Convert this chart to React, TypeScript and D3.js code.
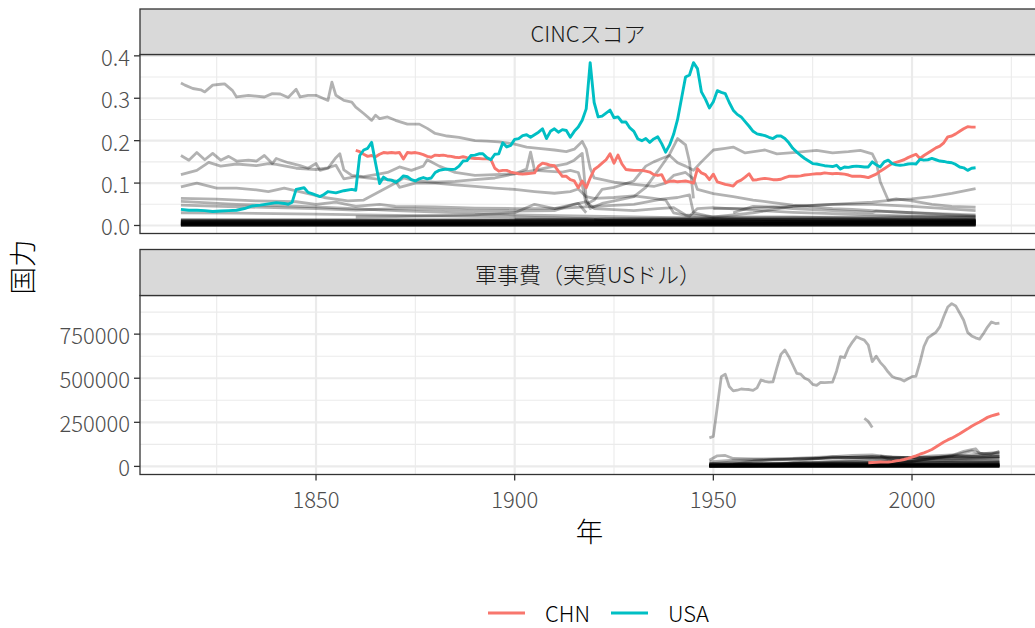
import React, { useEffect, useRef } from 'react';
import * as d3 from 'd3';

type Pt = [number, number];

// ---- CINC score (top facet) ----
const cincCHN: Pt[] = [
  [1860,0.177],[1861,0.174],[1862,0.168],[1863,0.163],[1864,0.165],[1865,0.162],[1866,0.168],[1867,0.172],[1868,0.171],[1869,0.172],
  [1870,0.171],[1871,0.172],[1872,0.157],[1873,0.172],[1874,0.171],[1875,0.172],[1876,0.170],[1877,0.167],[1878,0.163],[1879,0.161],
  [1880,0.166],[1881,0.165],[1882,0.166],[1883,0.164],[1884,0.163],[1885,0.161],[1886,0.160],[1887,0.162],[1888,0.160],[1889,0.159],
  [1890,0.158],[1891,0.158],[1892,0.157],[1893,0.157],[1894,0.156],[1895,0.135],[1896,0.128],[1897,0.130],[1898,0.130],[1899,0.126],
  [1900,0.124],[1901,0.122],[1902,0.121],[1903,0.122],[1904,0.123],[1905,0.124],[1906,0.140],[1907,0.147],[1908,0.145],[1909,0.142],
  [1910,0.141],[1911,0.128],[1912,0.116],[1913,0.116],[1914,0.108],[1915,0.105],[1916,0.089],[1917,0.105],[1918,0.089],[1919,0.112],
  [1920,0.132],[1921,0.139],[1922,0.147],[1923,0.155],[1924,0.169],[1925,0.147],[1926,0.166],[1927,0.145],[1928,0.132],[1929,0.131],
  [1930,0.130],[1931,0.130],[1932,0.130],[1933,0.128],[1934,0.126],[1935,0.120],[1936,0.118],[1937,0.120],[1938,0.101],[1939,0.104],
  [1940,0.105],[1941,0.103],[1942,0.104],[1943,0.105],[1944,0.103],[1945,0.100],[1946,0.134],[1947,0.124],[1948,0.120],[1949,0.108],
  [1950,0.121],[1951,0.103],[1952,0.100],[1953,0.097],[1954,0.095],[1955,0.093],[1956,0.103],[1957,0.107],[1958,0.114],[1959,0.122],
  [1960,0.107],[1961,0.108],[1962,0.110],[1963,0.111],[1964,0.110],[1965,0.108],[1966,0.108],[1967,0.109],[1968,0.113],[1969,0.116],
  [1970,0.116],[1971,0.116],[1972,0.117],[1973,0.119],[1974,0.120],[1975,0.121],[1976,0.122],[1977,0.122],[1978,0.124],[1979,0.123],
  [1980,0.122],[1981,0.123],[1982,0.122],[1983,0.121],[1984,0.119],[1985,0.116],[1986,0.116],[1987,0.116],[1988,0.115],[1989,0.113],
  [1990,0.117],[1991,0.121],[1992,0.128],[1993,0.134],[1994,0.140],[1995,0.146],[1996,0.149],[1997,0.152],[1998,0.155],[1999,0.160],
  [2000,0.164],[2001,0.168],[2002,0.158],[2003,0.165],[2004,0.171],[2005,0.177],[2006,0.183],[2007,0.187],[2008,0.195],[2009,0.209],
  [2010,0.211],[2011,0.216],[2012,0.222],[2013,0.228],[2014,0.233],[2015,0.232],[2016,0.232]
];

const cincUSA: Pt[] = [
  [1816,0.038],[1818,0.036],[1820,0.036],[1822,0.035],[1824,0.033],[1826,0.034],[1828,0.035],[1830,0.036],[1832,0.040],[1834,0.046],
  [1836,0.048],[1838,0.051],[1840,0.054],[1842,0.052],[1843,0.050],[1844,0.055],[1845,0.085],[1847,0.089],[1848,0.078],[1849,0.075],
  [1851,0.068],[1852,0.073],[1853,0.080],[1855,0.077],[1857,0.082],[1859,0.085],[1860,0.083],[1861,0.165],[1862,0.178],[1863,0.182],
  [1864,0.196],[1865,0.146],[1866,0.099],[1867,0.114],[1868,0.108],[1869,0.107],[1870,0.102],[1871,0.108],[1872,0.117],[1873,0.115],
  [1874,0.108],[1875,0.105],[1876,0.110],[1877,0.113],[1878,0.110],[1879,0.112],[1880,0.125],[1881,0.130],[1882,0.132],[1883,0.133],
  [1884,0.132],[1885,0.133],[1886,0.140],[1887,0.152],[1888,0.153],[1889,0.165],[1890,0.166],[1891,0.169],[1892,0.169],[1893,0.160],
  [1894,0.155],[1895,0.168],[1896,0.169],[1897,0.195],[1898,0.185],[1899,0.189],[1900,0.203],[1901,0.205],[1902,0.212],[1903,0.214],
  [1904,0.208],[1905,0.214],[1906,0.220],[1907,0.228],[1908,0.205],[1909,0.222],[1910,0.228],[1911,0.220],[1912,0.226],[1913,0.224],
  [1914,0.208],[1915,0.222],[1916,0.232],[1917,0.248],[1918,0.275],[1919,0.384],[1920,0.290],[1921,0.256],[1922,0.258],[1923,0.265],
  [1924,0.272],[1925,0.254],[1926,0.256],[1927,0.244],[1928,0.244],[1929,0.230],[1930,0.222],[1931,0.204],[1932,0.200],[1933,0.205],
  [1934,0.196],[1935,0.204],[1936,0.209],[1937,0.193],[1938,0.173],[1939,0.190],[1940,0.215],[1941,0.250],[1942,0.300],[1943,0.350],
  [1944,0.355],[1945,0.384],[1946,0.370],[1947,0.315],[1948,0.298],[1949,0.277],[1950,0.292],[1951,0.318],[1952,0.314],[1953,0.311],
  [1954,0.290],[1955,0.272],[1956,0.262],[1957,0.256],[1958,0.245],[1959,0.234],[1960,0.222],[1961,0.216],[1962,0.214],[1963,0.212],
  [1964,0.208],[1965,0.205],[1966,0.211],[1967,0.211],[1968,0.205],[1969,0.195],[1970,0.182],[1971,0.173],[1972,0.165],[1973,0.158],
  [1974,0.152],[1975,0.146],[1976,0.145],[1977,0.143],[1978,0.141],[1979,0.140],[1980,0.139],[1981,0.142],[1982,0.133],[1983,0.138],
  [1984,0.137],[1985,0.139],[1986,0.140],[1987,0.139],[1988,0.138],[1989,0.138],[1990,0.150],[1991,0.143],[1992,0.138],[1993,0.150],
  [1994,0.154],[1995,0.146],[1996,0.143],[1997,0.142],[1998,0.143],[1999,0.145],[2000,0.146],[2001,0.145],[2002,0.156],[2003,0.154],
  [2004,0.155],[2005,0.158],[2006,0.155],[2007,0.152],[2008,0.151],[2009,0.149],[2010,0.148],[2011,0.144],[2012,0.138],[2013,0.136],
  [2014,0.130],[2015,0.135],[2016,0.136]
];

// other states, drawn in translucent black
const cincGBR: Pt[] = [
  [1816,0.336],[1817,0.331],[1819,0.323],[1821,0.320],[1822,0.315],[1824,0.331],[1826,0.333],[1827,0.334],[1829,0.318],[1830,0.303],
  [1833,0.307],[1835,0.305],[1837,0.303],[1839,0.311],[1841,0.310],[1843,0.302],[1845,0.321],[1846,0.303],[1848,0.307],[1850,0.307],
  [1852,0.299],[1853,0.295],[1854,0.338],[1855,0.307],[1857,0.295],[1859,0.291],[1860,0.279],[1862,0.264],[1864,0.248],[1865,0.260],
  [1866,0.252],[1868,0.256],[1870,0.248],[1873,0.239],[1876,0.239],[1878,0.229],[1880,0.217],[1883,0.211],[1886,0.208],[1890,0.200],
  [1893,0.199],[1896,0.197],[1900,0.192],[1903,0.185],[1906,0.182],[1910,0.178],[1913,0.174],[1915,0.180],[1917,0.198],[1918,0.180],
  [1919,0.135],[1920,0.112],[1925,0.102],[1930,0.097],[1935,0.092],[1938,0.100],[1940,0.118],[1943,0.125],[1945,0.110],[1946,0.085],
  [1950,0.075],[1955,0.068],[1960,0.060],[1965,0.054],[1970,0.048],[1975,0.044],[1980,0.040],[1985,0.038],[1990,0.035],[2000,0.030],
  [2010,0.025],[2016,0.022]
];
const cincRUS: Pt[] = [
  [1816,0.165],[1818,0.154],[1820,0.172],[1822,0.155],[1824,0.170],[1826,0.154],[1828,0.163],[1830,0.152],[1833,0.154],[1835,0.152],
  [1837,0.165],[1839,0.146],[1840,0.158],[1843,0.148],[1846,0.141],[1848,0.135],[1850,0.146],[1851,0.130],[1853,0.135],[1855,0.160],
  [1856,0.169],[1857,0.131],[1859,0.118],[1862,0.115],[1865,0.120],[1868,0.125],[1871,0.138],[1874,0.130],[1877,0.140],[1878,0.155],
  [1881,0.140],[1885,0.125],[1890,0.118],[1895,0.120],[1900,0.122],[1903,0.133],[1904,0.173],[1905,0.130],[1908,0.128],[1912,0.126],
  [1914,0.130],[1916,0.125],[1917,0.095],[1918,0.050],[1920,0.060],[1922,0.085],[1925,0.090],[1930,0.105],[1933,0.140],[1935,0.150],
  [1937,0.158],[1939,0.165],[1941,0.148],[1943,0.140],[1945,0.130],[1947,0.150],[1950,0.178],[1953,0.182],[1955,0.185],[1958,0.171],
  [1963,0.178],[1966,0.169],[1970,0.172],[1976,0.177],[1980,0.171],[1984,0.174],[1987,0.177],[1990,0.169],[1991,0.150],[1992,0.103],
  [1994,0.060],[1996,0.063],[2000,0.058],[2005,0.050],[2010,0.045],[2016,0.043]
];
const cincFRA: Pt[] = [
  [1816,0.120],[1820,0.130],[1823,0.149],[1826,0.140],[1830,0.145],[1835,0.141],[1838,0.146],[1840,0.144],[1845,0.135],[1850,0.132],
  [1853,0.136],[1855,0.142],[1857,0.110],[1860,0.115],[1865,0.110],[1868,0.108],[1870,0.105],[1871,0.090],[1875,0.100],[1880,0.100],
  [1885,0.096],[1890,0.092],[1895,0.088],[1900,0.085],[1905,0.080],[1910,0.076],[1914,0.080],[1916,0.086],[1918,0.068],[1920,0.064],
  [1925,0.066],[1930,0.070],[1935,0.064],[1938,0.060],[1940,0.030],[1944,0.022],[1946,0.040],[1950,0.042],[1960,0.036],[1970,0.031],
  [1980,0.028],[1990,0.025],[2000,0.022],[2016,0.018]
];
const cincDEU: Pt[] = [
  [1816,0.091],[1820,0.100],[1825,0.088],[1830,0.088],[1835,0.084],[1838,0.080],[1842,0.088],[1848,0.075],[1852,0.066],[1858,0.058],
  [1862,0.060],[1866,0.080],[1870,0.100],[1872,0.112],[1875,0.105],[1880,0.102],[1885,0.104],[1890,0.108],[1895,0.112],[1900,0.122],
  [1905,0.130],[1910,0.140],[1913,0.145],[1915,0.154],[1917,0.170],[1918,0.064],[1919,0.040],[1922,0.052],[1926,0.060],[1930,0.068],
  [1933,0.090],[1936,0.128],[1939,0.168],[1941,0.205],[1943,0.190],[1944,0.150],[1945,0.064]
];
const cincGFR: Pt[] = [
  [1955,0.030],[1960,0.045],[1965,0.044],[1970,0.040],[1980,0.035],[1990,0.031],[1991,0.034],[2000,0.030],[2010,0.027],[2016,0.025]
];
const cincAUH: Pt[] = [
  [1816,0.064],[1825,0.062],[1835,0.058],[1845,0.056],[1850,0.050],[1855,0.055],[1860,0.045],[1866,0.050],[1870,0.045],[1880,0.044],
  [1890,0.041],[1900,0.040],[1910,0.040],[1914,0.048],[1916,0.052],[1918,0.030]
];
const cincITA: Pt[] = [
  [1816,0.048],[1830,0.044],[1850,0.040],[1860,0.036],[1870,0.040],[1880,0.038],[1890,0.035],[1900,0.034],[1910,0.035],[1915,0.050],
  [1918,0.056],[1920,0.040],[1930,0.035],[1936,0.040],[1940,0.042],[1943,0.025],[1950,0.020],[1970,0.020],[2000,0.015],[2016,0.012]
];
const cincJPN: Pt[] = [
  [1860,0.020],[1870,0.021],[1890,0.025],[1900,0.030],[1905,0.050],[1910,0.040],[1920,0.045],[1930,0.050],[1937,0.062],[1941,0.066],
  [1944,0.072],[1945,0.030],[1950,0.020],[1960,0.030],[1970,0.045],[1980,0.050],[1990,0.050],[2000,0.045],[2016,0.035]
];
const cincIND: Pt[] = [
  [1950,0.040],[1960,0.041],[1970,0.045],[1980,0.050],[1990,0.055],[1995,0.060],[2000,0.063],[2005,0.068],[2010,0.076],[2016,0.087]
];
const cincTUR: Pt[] = [
  [1816,0.030],[1830,0.029],[1850,0.027],[1870,0.024],[1900,0.020],[1918,0.016],[1923,0.012],[1950,0.012],[1980,0.014],[2016,0.015]
];
const cincESP: Pt[] = [
  [1816,0.057],[1830,0.050],[1850,0.044],[1870,0.035],[1900,0.025],[1930,0.020],[1960,0.015],[2016,0.010]
];
const cincMinor: Pt[][] = [
  [[1816,0.011],[1870,0.010],[1920,0.009],[2016,0.008]],
  [[1816,0.008],[1900,0.007],[2016,0.010]],
  [[1816,0.006],[1880,0.005],[1950,0.006],[2016,0.007]],
  [[1816,0.004],[1860,0.005],[1940,0.004],[2016,0.005]],
  [[1816,0.003],[1900,0.003],[2016,0.004]],
  [[1816,0.002],[2016,0.002]],
  [[1816,0.0015],[1950,0.001],[2016,0.0015]],
  [[1816,0.009],[1850,0.008],[1900,0.012],[2016,0.006]],
  [[1816,0.005],[1900,0.006],[2016,0.003]],
  [[1816,0.002],[1950,0.003],[2016,0.012]],
  [[1816,0.001],[1920,0.002],[2016,0.001]],
  [[1816,0.004],[1960,0.006],[2016,0.009]],
  [[1816,0.0025],[2016,0.003]],
  [[1816,0.005],[2016,0.004]],
  [[1816,0.001],[2016,0.002]],
  [[1816,0.0005],[2016,0.0008]],
  [[1816,0.0003],[2016,0.0005]],
  [[1816,0.007],[1950,0.009],[2016,0.011]],
  [[1816,0.010],[1900,0.011],[2016,0.009]],
  [[1816,0.0035],[2016,0.0065]],
  [[1816,0.013],[1900,0.012],[2016,0.013]],
  [[1816,0.012],[1950,0.014],[2016,0.012]],
  [[1816,0.0095],[2016,0.0105]],
  [[1816,0.0075],[2016,0.0085]],
  [[1816,0.0055],[2016,0.0058]],
  [[1816,0.014],[1880,0.013],[2016,0.014]],
  [[1900,0.015],[1950,0.018],[2016,0.022]],
  [[1920,0.013],[1970,0.016],[2016,0.019]]
];
const cincOthers: Pt[][] = [
  cincGBR, cincRUS, cincFRA, cincDEU, cincGFR, cincAUH, cincITA, cincJPN, cincIND, cincTUR, cincESP, ...cincMinor
];

// ---- military expenditure (bottom facet) ----
const milexCHN: Pt[] = [
  [1989,21000],[1990,22000],[1991,23000],[1992,25000],[1993,24000],[1994,25000],[1995,27000],[1996,31000],[1997,34000],[1998,39000],
  [1999,45000],[2000,52000],[2001,60000],[2002,69000],[2003,77000],[2004,86000],[2005,96000],[2006,110000],[2007,124000],[2008,138000],
  [2009,150000],[2010,160000],[2011,172000],[2012,185000],[2013,199000],[2014,213000],[2015,228000],[2016,240000],[2017,252000],
  [2018,265000],[2019,278000],[2020,287000],[2021,293000],[2022,299000]
];
const milexTop: Pt[] = [
  [1949,162000],[1950,170000],[1951,340000],[1952,509000],[1953,523000],[1954,453000],[1955,428000],[1956,432000],[1957,439000],
  [1958,437000],[1959,436000],[1960,431000],[1961,445000],[1962,490000],[1963,482000],[1964,478000],[1965,480000],[1966,560000],
  [1967,635000],[1968,660000],[1969,622000],[1970,575000],[1971,528000],[1972,523000],[1973,500000],[1974,490000],[1975,465000],
  [1976,459000],[1977,477000],[1978,475000],[1979,477000],[1980,478000],[1981,540000],[1982,622000],[1983,617000],[1984,670000],
  [1985,705000],[1986,735000],[1987,725000],[1988,716000],[1989,688000],[1990,594000],[1991,625000],[1992,590000],[1993,566000],
  [1994,535000],[1995,510000],[1996,500000],[1997,495000],[1998,484000],[1999,497000],[2000,509000],[2001,512000],[2002,590000],
  [2003,680000],[2004,729000],[2005,745000],[2006,760000],[2007,791000],[2008,850000],[2009,904000],[2010,923000],[2011,910000],
  [2012,870000],[2013,829000],[2014,760000],[2015,740000],[2016,729000],[2017,722000],[2018,754000],[2019,790000],[2020,819000],
  [2021,810000],[2022,813000]
];
const milexFragment: Pt[] = [[1988,272000],[1989,255000],[1990,220000]];
const milexMid: Pt[][] = [
  [[1949,35000],[1951,60000],[1953,62000],[1955,45000],[1960,42000],[1970,45000],[1980,55000],[1985,62000],[1990,65000],[1995,52000],[2000,50000],[2005,60000],[2010,65000],[2015,57000],[2022,68000]],
  [[1949,15000],[1955,25000],[1960,30000],[1965,38000],[1970,40000],[1980,48000],[1990,55000],[2000,50000],[2010,55000],[2022,57000]],
  [[1992,60000],[1995,35000],[1998,20000],[2000,28000],[2005,45000],[2010,62000],[2013,85000],[2015,95000],[2016,100000],[2017,75000],[2020,70000],[2022,86000]],
  [[1965,5000],[1975,40000],[1980,55000],[1985,50000],[1990,45000],[2000,30000],[2010,60000],[2015,88000],[2018,70000],[2022,75000]],
  [[1949,5000],[1962,10000],[1970,15000],[1985,25000],[1990,25000],[2000,30000],[2010,55000],[2022,81000]],
  [[1954,8000],[1970,15000],[1980,28000],[1990,45000],[2000,48000],[2010,47000],[2022,46000]],
  [[1955,12000],[1960,30000],[1970,42000],[1980,48000],[1990,52000],[2000,40000],[2010,42000],[2022,56000]],
  [[1949,25000],[1955,35000],[1960,38000],[1970,42000],[1980,48000],[1990,55000],[2000,50000],[2010,53000],[2022,55000]],
  [[1955,3000],[1970,6000],[1980,15000],[1990,22000],[2000,27000],[2010,35000],[2022,48000]],
  [[1949,8000],[1960,15000],[1980,25000],[1990,30000],[2000,32000],[2010,33000],[2022,33000]]
];
const milexMinor: Pt[][] = [
  [[1949,2000],[1980,3000],[2022,4000]],
  [[1949,1000],[2022,1500]],
  [[1949,500],[2022,600]],
  [[1949,3000],[1990,6000],[2022,8000]],
  [[1949,4000],[2000,9000],[2022,12000]],
  [[1949,1500],[2022,2500]],
  [[1949,6000],[1985,10000],[2022,14000]],
  [[1949,500],[2022,1000]],
  [[1949,2000],[2022,5000]],
  [[1949,300],[2022,300]],
  [[1949,1000],[2022,2000]],
  [[1949,8000],[2000,12000],[2022,18000]],
  [[1949,3500],[2022,6500]],
  [[1949,200],[2022,800]],
  [[1949,7000],[2022,10000]],
  [[1949,12000],[1990,16000],[2022,22000]],
  [[1949,10000],[2022,12000]],
  [[1949,14000],[1990,18000],[2022,26000]],
  [[1949,9000],[2022,15000]],
  [[1949,4500],[2022,7500]],
  [[1949,16000],[2000,20000],[2022,28000]]
];
const milexOthers: Pt[][] = [milexTop, milexFragment, ...milexMid, ...milexMinor];

const facetLabels = ['CINCスコア', '軍事費（実質USドル）'];
const cincTicks = [0, 0.1, 0.2, 0.3, 0.4];
const cincMinorTicks = [0.05, 0.15, 0.25, 0.35];
const milexTicks = [0, 250000, 500000, 750000];
const milexMinorTicks = [125000, 375000, 625000, 875000];
const yearTicks = [1850, 1900, 1950, 2000];
const yearMinorTicks = [1825, 1875, 1925, 1975, 2025];
const legendKeys = ['CHN', 'USA'];
const legendColors = ['#F8766D', '#00BFC4'];
const xTitle = '年';
const yTitle = '国力';

const FONT = '"Noto Sans CJK JP", "Noto Sans", sans-serif';

const App = () => {
  const ref = useRef<SVGSVGElement | null>(null);

  useEffect(() => {
    const svg = d3.select(ref.current);
    svg.selectAll('*').remove();

    const left = 140;
    const allYears = [...cincCHN, ...cincUSA, ...cincOthers.flat(), ...milexCHN, ...milexOthers.flat()].map(d => d[0]);
    const [yr0, yr1] = d3.extent(allYears) as [number, number];
    const pad = (yr1 - yr0) * 0.05;
    const pxPerYear = 3.9733;
    const x = d3.scaleLinear()
      .domain([yr0 - pad, yr1 + pad])
      .range([left, left + (yr1 - yr0 + 2 * pad) * pxPerYear]);
    const right = x.range()[1];

    const expand = (vals: number[]) => {
      const [a, b] = d3.extent(vals) as [number, number];
      const p = (b - a) * 0.05;
      return [a - p, b + p];
    };

    const panels = [
      {
        label: facetLabels[0], stripTop: 9, top: 54.5, bottom: 233.5,
        others: cincOthers, chn: cincCHN, usa: cincUSA,
        ticks: cincTicks, minor: cincMinorTicks, fmt: d3.format('.1f'),
        domain: expand([...cincCHN, ...cincUSA, ...cincOthers.flat()].map(d => d[1])),
      },
      {
        label: facetLabels[1], stripTop: 249.5, bottom: 474.5, top: 295.5,
        others: milexOthers, chn: milexCHN, usa: [] as Pt[],
        ticks: milexTicks, minor: milexMinorTicks, fmt: d3.format('d'),
        domain: expand([...milexCHN, ...milexOthers.flat()].map(d => d[1])),
      },
    ];

    panels.forEach((p, i) => {
      const y = d3.scaleLinear().domain(p.domain).range([p.bottom, p.top]);
      const g = svg.append('g');

      g.append('rect')
        .attr('x', left).attr('y', p.top)
        .attr('width', right - left).attr('height', p.bottom - p.top)
        .attr('fill', '#fff');

      // grid
      p.minor.forEach(t => {
        g.append('line').attr('x1', left).attr('x2', right)
          .attr('y1', y(t)).attr('y2', y(t))
          .attr('stroke', '#EBEBEB').attr('stroke-width', 1.1);
      });
      yearMinorTicks.forEach(t => {
        g.append('line').attr('x1', x(t)).attr('x2', x(t))
          .attr('y1', p.top).attr('y2', p.bottom)
          .attr('stroke', '#EBEBEB').attr('stroke-width', 1.1);
      });
      p.ticks.forEach(t => {
        g.append('line').attr('x1', left).attr('x2', right)
          .attr('y1', y(t)).attr('y2', y(t))
          .attr('stroke', '#EBEBEB').attr('stroke-width', 2.2);
      });
      yearTicks.forEach(t => {
        g.append('line').attr('x1', x(t)).attr('x2', x(t))
          .attr('y1', p.top).attr('y2', p.bottom)
          .attr('stroke', '#EBEBEB').attr('stroke-width', 2.2);
      });

      // lines
      const clipId = `clip-${i}`;
      svg.append('clipPath').attr('id', clipId)
        .append('rect').attr('x', left).attr('y', p.top)
        .attr('width', right - left).attr('height', p.bottom - p.top);
      const lines = g.append('g').attr('clip-path', `url(#${clipId})`);
      const line = d3.line<Pt>().x(d => x(d[0])).y(d => y(d[1]));

      p.others.forEach(s => {
        lines.append('path').datum(s)
          .attr('d', line)
          .attr('fill', 'none')
          .attr('stroke', '#000')
          .attr('stroke-opacity', 0.3)
          .attr('stroke-width', 2.8)
          .attr('stroke-linejoin', 'round');
      });
      [p.chn, p.usa].forEach((s, k) => {
        if (!s.length) return;
        lines.append('path').datum(s)
          .attr('d', line)
          .attr('fill', 'none')
          .attr('stroke', legendColors[k])
          .attr('stroke-width', 2.9)
          .attr('stroke-linejoin', 'round');
      });

      // border
      g.append('rect')
        .attr('x', left).attr('y', p.top)
        .attr('width', right - left).attr('height', p.bottom - p.top)
        .attr('fill', 'none').attr('stroke', '#333').attr('stroke-width', 1.3);

      // strip
      g.append('rect')
        .attr('x', left).attr('y', p.stripTop)
        .attr('width', right - left).attr('height', p.top - p.stripTop)
        .attr('fill', '#D9D9D9').attr('stroke', '#333').attr('stroke-width', 1.3);
      g.append('text')
        .attr('x', (left + 1035) / 2 + 0.5).attr('y', (p.stripTop + p.top) / 2)
        .attr('text-anchor', 'middle').attr('dominant-baseline', 'central')
        .attr('font-family', FONT).attr('font-size', 22).attr('font-weight', 300).attr('fill', '#1A1A1A')
        .text(p.label);

      // y axis
      p.ticks.forEach(t => {
        g.append('line').attr('x1', left - 6).attr('x2', left)
          .attr('y1', y(t)).attr('y2', y(t))
          .attr('stroke', '#333').attr('stroke-width', 1.3);
        g.append('text')
          .attr('x', left - 10).attr('y', y(t))
          .attr('text-anchor', 'end').attr('dominant-baseline', 'central')
          .attr('font-family', FONT).attr('font-size', 22).attr('font-weight', 300).attr('fill', '#4D4D4D')
          .text(p.fmt(t));
      });

      // x axis on the bottom facet
      if (i === panels.length - 1) {
        yearTicks.forEach(t => {
          g.append('line').attr('x1', x(t)).attr('x2', x(t))
            .attr('y1', p.bottom).attr('y2', p.bottom + 6)
            .attr('stroke', '#333').attr('stroke-width', 1.3);
          g.append('text')
            .attr('x', x(t)).attr('y', p.bottom + 23)
            .attr('text-anchor', 'middle').attr('dominant-baseline', 'central')
            .attr('font-family', FONT).attr('font-size', 22).attr('font-weight', 300).attr('fill', '#4D4D4D')
            .text(String(t));
        });
      }
    });

    // axis titles
    svg.append('text')
      .attr('x', (left + 1035) / 2 + 2).attr('y', 530)
      .attr('text-anchor', 'middle').attr('dominant-baseline', 'central')
      .attr('font-family', FONT).attr('font-size', 27.5).attr('font-weight', 300).attr('fill', '#000')
      .text(xTitle);
    svg.append('text')
      .attr('transform', 'translate(21,267) rotate(-90)')
      .attr('text-anchor', 'middle').attr('dominant-baseline', 'central')
      .attr('font-family', FONT).attr('font-size', 27.5).attr('font-weight', 300).attr('fill', '#000')
      .text(yTitle);

    // legend
    const legendX = [488, 611];
    legendKeys.forEach((k, i) => {
      svg.append('line')
        .attr('x1', legendX[i]).attr('x2', legendX[i] + 37)
        .attr('y1', 613).attr('y2', 613)
        .attr('stroke', legendColors[i]).attr('stroke-width', 2.9);
      svg.append('text')
        .attr('x', legendX[i] + 57).attr('y', 612)
        .attr('dominant-baseline', 'central')
        .attr('font-family', FONT).attr('font-size', 22).attr('font-weight', 300).attr('fill', '#000')
        .text(k);
    });
  }, []);

  return (
    <svg
      ref={ref}
      width={1035}
      height={628}
      style={{ position: 'absolute', left: 0, top: 0, background: '#fff' }}
    />
  );
};

export default App;
